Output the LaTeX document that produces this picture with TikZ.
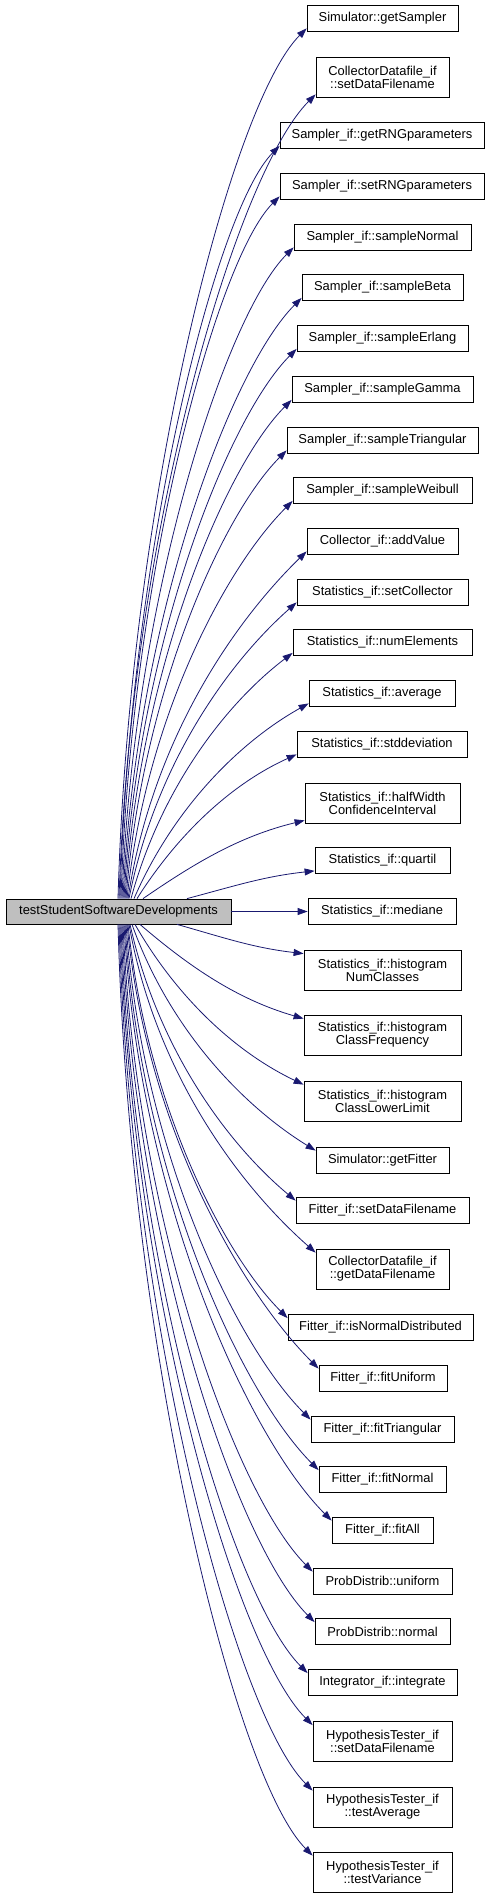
\documentclass[tikz,border=0pt]{standalone}
\usepackage{fontspec}
\setmainfont{Liberation Sans}
\usetikzlibrary{arrows.meta,calc}
\definecolor{edgeblue}{HTML}{191970}
\definecolor{maingray}{HTML}{BFBFBF}
\begin{document}
\begin{tikzpicture}[x=1pt,y=-1pt,
  box/.style={draw=black, line width=0.8pt, fill=white, inner sep=0pt,
    minimum height=26pt, align=center, font=\fontsize{12.9pt}{13pt}\selectfont},
  dbl/.style={box, minimum height=40pt},
  edge/.style={draw=edgeblue, line width=0.8pt, -{Triangle[length=10pt,width=7pt]}}]
\useasboundingbox (0,0) rectangle (491,1897);

\node[box, fill=maingray, minimum width=225pt, minimum height=25pt] (m) at (118.5,911.5) {testStudentSoftwareDevelopments};

\node[box, minimum width=151pt] (t1) at (382.5,18) {Simulator::getSampler};
\node[dbl, minimum width=133pt] (t2) at (382.5,77) {CollectorDatafile\_if\\::setDataFilename};
\node[box, minimum width=204pt] (t3) at (382,135.5) {Sampler\_if::getRNGparameters};
\node[box, minimum width=204pt] (t4) at (382,186) {Sampler\_if::setRNGparameters};
\node[box, minimum width=177pt] (t5) at (382.5,237) {Sampler\_if::sampleNormal};
\node[box, minimum width=161pt] (t6) at (382.5,287.5) {Sampler\_if::sampleBeta};
\node[box, minimum width=171pt] (t7) at (382.5,338.5) {Sampler\_if::sampleErlang};
\node[box, minimum width=181pt] (t8) at (382.5,389.5) {Sampler\_if::sampleGamma};
\node[box, minimum width=191pt] (t9) at (382.5,440) {Sampler\_if::sampleTriangular};
\node[box, minimum width=179pt] (t10) at (382.5,490.5) {Sampler\_if::sampleWeibull};
\node[box, minimum width=151pt] (t11) at (382.5,541) {Collector\_if::addValue};
\node[box, minimum width=171pt] (t12) at (382.5,592) {Statistics\_if::setCollector};
\node[box, minimum width=179pt] (t13) at (382.5,642.5) {Statistics\_if::numElements};
\node[box, minimum width=146pt] (t14) at (382,693) {Statistics\_if::average};
\node[box, minimum width=170pt] (t15) at (382,744) {Statistics\_if::stddeviation};
\node[dbl, minimum width=155pt] (t16) at (382.5,803) {Statistics\_if::halfWidth\\ConfidenceInterval};
\node[box, minimum width=135pt] (t17) at (382.5,860.5) {Statistics\_if::quartil};
\node[box, minimum width=148pt] (t18) at (382,911.5) {Statistics\_if::mediane};
\node[dbl, minimum width=157pt] (t19) at (382.5,970) {Statistics\_if::histogram\\NumClasses};
\node[dbl, minimum width=157pt] (t20) at (382.5,1035) {Statistics\_if::histogram\\ClassFrequency};
\node[dbl, minimum width=157pt] (t21) at (382.5,1101) {Statistics\_if::histogram\\ClassLowerLimit};
\node[box, minimum width=133pt] (t22) at (382.5,1160) {Simulator::getFitter};
\node[box, minimum width=173pt] (t23) at (382.5,1210) {Fitter\_if::setDataFilename};
\node[dbl, minimum width=133pt] (t24) at (382.5,1269) {CollectorDatafile\_if\\::getDataFilename};
\node[box, minimum width=185pt] (t25) at (380.5,1327.5) {Fitter\_if::isNormalDistributed};
\node[box, minimum width=128pt] (t26) at (383,1378) {Fitter\_if::fitUniform};
\node[box, minimum width=143pt] (t27) at (382.5,1429) {Fitter\_if::fitTriangular};
\node[box, minimum width=127pt] (t28) at (382.5,1479.5) {Fitter\_if::fitNormal};
\node[box, minimum width=101pt] (t29) at (382.5,1530) {Fitter\_if::fitAll};
\node[box, minimum width=139pt] (t30) at (382.5,1581) {ProbDistrib::uniform};
\node[box, minimum width=135pt] (t31) at (382.5,1631.5) {ProbDistrib::normal};
\node[box, minimum width=149pt] (t32) at (382.5,1682.5) {Integrator\_if::integrate};
\node[dbl, minimum width=139pt] (t33) at (382.5,1741.5) {HypothesisTester\_if\\::setDataFilename};
\node[dbl, minimum width=139pt] (t34) at (382.5,1807) {HypothesisTester\_if\\::testAverage};
\node[dbl, minimum width=139pt] (t35) at (382.5,1872) {HypothesisTester\_if\\::testVariance};

% upper edges
\foreach \t/\dx in {t1/-0.5,t2/0.5,t3/1.5,t4/2.5,t5/3.5,t6/4.5,t7/5.5,t8/6.5,t9/7.5,t10/8.5,t11/9.5,t12/10.5,t13/12.5,t14/15.5,t15/18.5,t16/24.5,t17/68.5}{
  \draw[edge] let \p1=([xshift=\dx pt]m.north), \p2=([yshift=3pt]\t.south west),
    \n1={abs(\y2-\y1)/870}, \n2={min(1,0.5*abs(\y2-\y1)/(\x2-\x1))} in
    (\p1) .. controls ({\x1+(0.06+0.35*(1-\n1)*(1-\n1)*(1-\n1))*(\x2-\x1)},{\y1+0.46*(\y2-\y1)})
    and ({\x2-0.4*(\x2-\x1)},{\y2-0.4*(\x2-\x1)*\n2}) .. (\p2);
}
% lower edges
\foreach \t/\dx in {t19/58.5,t20/21.5,t21/16.5,t22/13.5,t23/11.5,t24/10.5,t25/9.5,t26/8.5,t27/7.5,t28/6.5,t29/5.5,t30/4.5,t31/3.5,t32/2.5,t33/1.5,t34/0.5,t35/-0.5}{
  \draw[edge] let \p1=([xshift=\dx pt]m.south), \p2=([yshift=-4pt]\t.north west),
    \n1={abs(\y2-\y1)/870}, \n2={min(1,0.5*abs(\y2-\y1)/(\x2-\x1))} in
    (\p1) .. controls ({\x1+(0.06+0.35*(1-\n1)*(1-\n1)*(1-\n1))*(\x2-\x1)},{\y1+0.46*(\y2-\y1)})
    and ({\x2-0.4*(\x2-\x1)},{\y2+0.4*(\x2-\x1)*\n2}) .. (\p2);
}
\draw[edge] (m.east) -- (t18.west);
\end{tikzpicture}
\end{document}
